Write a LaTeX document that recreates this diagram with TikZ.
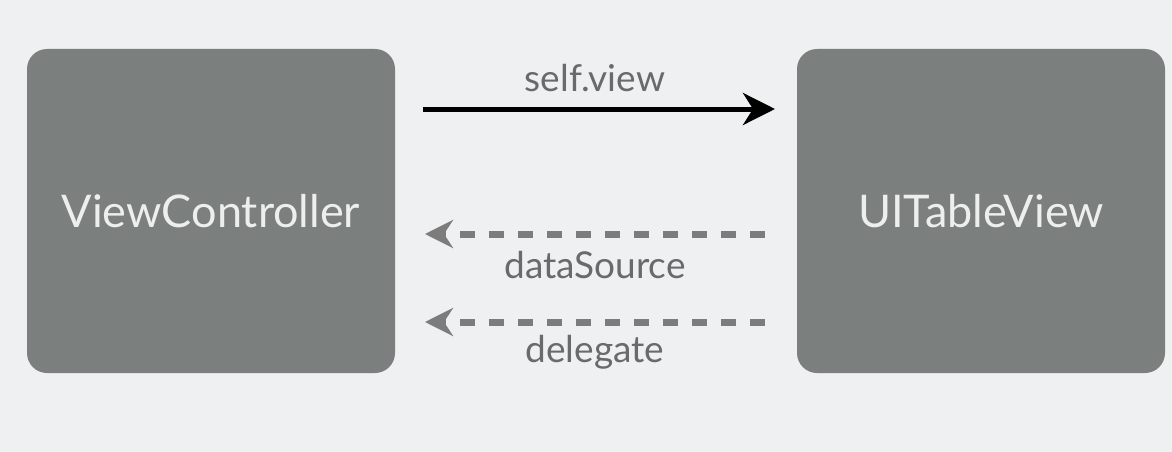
\documentclass[tikz,border=0pt]{standalone}
\usepackage{fontspec}
\setmainfont{Lato}
\usetikzlibrary{arrows.meta}
\definecolor{bg}{HTML}{EEF0F1}
\definecolor{boxc}{HTML}{7B807E}
\definecolor{boxtext}{HTML}{EDEEEE}
\definecolor{lbl}{HTML}{686A6C}
\definecolor{dashc}{HTML}{7C7C7C}
\tikzset{
  bigbox/.style={draw=none, fill=boxc, rounded corners=20pt, minimum width=368pt, minimum height=324pt, inner sep=0pt, text=boxtext, font=\fontsize{45}{54}\selectfont},
  lab/.style={text=lbl, font=\fontsize{37}{44}\selectfont, inner sep=0pt},
  solidarrow/.style={line width=5pt, black, -{Stealth[length=32pt, width=32pt, inset=10pt]}},
  dasharrow/.style={line width=7pt, dashc, dash pattern=on 15pt off 14pt, -{Stealth[length=28pt, width=28pt, inset=9pt]}}
}
\begin{document}
\begin{tikzpicture}[x=1pt,y=-1pt]
\fill[bg] (0,0) rectangle (1172,452);
\useasboundingbox (0,0) rectangle (1172,452);
\node[bigbox] (vc) at (211,211) {ViewController};
\node[bigbox] (tv) at (981,211) {UITableView};
\coordinate (a1s) at (423,109);
\coordinate (a1e) at (775,109);
\draw[solidarrow] (a1s) -- (a1e);
\node[lab] (l1) at (595,78) {self.view};
\coordinate (a2s) at (765,234);
\coordinate (a2e) at (425,234);
\draw[dasharrow] (a2s) -- (a2e);
\node[lab] (l2) at (595,265) {dataSource};
\coordinate (a3s) at (765,322);
\coordinate (a3e) at (425,322);
\draw[dasharrow] (a3s) -- (a3e);
\node[lab] (l3) at (595,352) {delegate};
\end{tikzpicture}
\end{document}
